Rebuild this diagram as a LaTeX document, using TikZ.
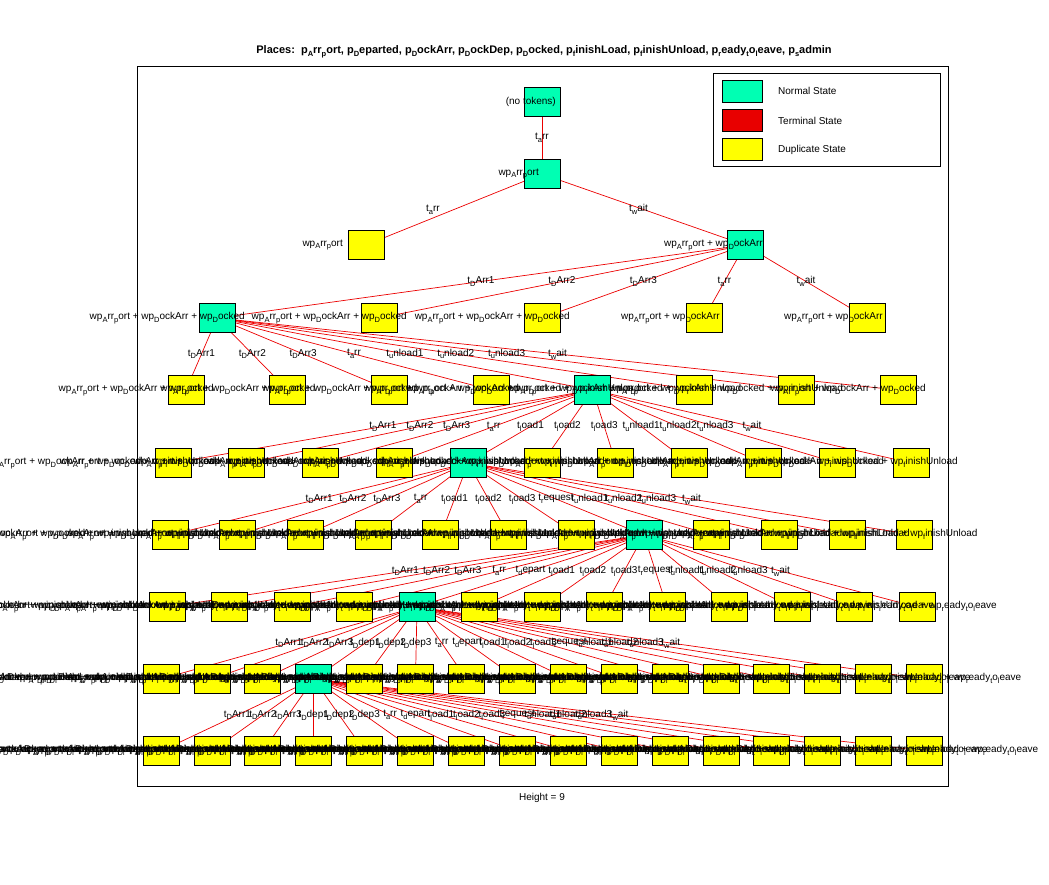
\documentclass[tikz,border=0pt]{standalone}
\usepackage{fontspec}
\setmainfont{Liberation Sans}
\pgfdeclarelayer{bg}
\pgfsetlayers{bg,main}
\definecolor{normalc}{RGB}{0,255,179}
\definecolor{termc}{RGB}{232,0,0}
\definecolor{dupc}{RGB}{255,255,0}
\definecolor{edgec}{RGB}{235,0,0}
\newcommand\sbs[1]{\raisebox{-2.8pt}{\fontsize{7.5}{8}\selectfont #1}}
\newcommand\mkArr{wp\sbs{A}rr\sbs{p}ort}
\newcommand\mkDep{wp\sbs{D}eparted}
\newcommand\mkDA{wp\sbs{D}ockArr}
\newcommand\mkDD{wp\sbs{D}ockDep}
\newcommand\mkDk{wp\sbs{D}ocked}
\newcommand\mkFL{wp\sbs{f}inishLoad}
\newcommand\mkFU{wp\sbs{f}inishUnload}
\newcommand\mkRL{wp\sbs{r}eady\sbs{t}o\sbs{l}eave}
\newcommand\mkSone{\mkArr}
\newcommand\mkStwo{\mkArr{} + \mkDA}
\newcommand\mkSthree{\mkStwo{} + \mkDk}
\newcommand\mkSfour{\mkSthree{} + \mkFU}
\newcommand\mkSfive{\mkSthree{} + \mkFL{} + \mkFU}
\newcommand\mkSsix{\mkSfive{} + \mkRL}
\newcommand\mkSseven{\mkArr{} + \mkDA{} + \mkDD{} + \mkDk{} + \mkFL{} + \mkFU{} + \mkRL}
\newcommand\mkSeight{\mkArr{} + \mkDep{} + \mkDA{} + \mkDD{} + \mkDk{} + \mkFL{} + \mkFU{} + \mkRL}
\begin{document}
\begin{tikzpicture}[x=1pt,y=-1pt,
  font=\fontsize{10}{12}\selectfont,
  sbox/.style={draw=black,line width=0.7pt,minimum width=36pt,minimum height=29pt,inner sep=0pt,outer sep=0pt},
  conn/.style={draw=edgec,line width=0.7pt},
  elab/.style={inner sep=0pt},
  nlab/.style={anchor=east,inner sep=0pt},
  swatch/.style={draw=black,line width=0.7pt,minimum width=40pt,minimum height=22pt,inner sep=0pt}]
\useasboundingbox (0,0) rectangle (1049,884);
% axes frame
\draw[black,line width=0.7pt] (137,66) rectangle (948,786);
\node[font=\fontsize{11}{13}\selectfont\bfseries] (title) at (544,52) {Places:\ \ p\sbs{A}rr\sbs{p}ort, p\sbs{D}eparted, p\sbs{D}ockArr, p\sbs{D}ockDep, p\sbs{D}ocked, p\sbs{f}inishLoad, p\sbs{f}inishUnload, p\sbs{r}eady\sbs{t}o\sbs{l}eave, p\sbs{s}admin};
\node (hgt) at (542,798) {Height = 9};
% state boxes
\node[sbox,fill=normalc] (n0) at (542,102) {};
\node[sbox,fill=normalc] (n1) at (542,174) {};
\node[sbox,fill=dupc] (n2a) at (366,245) {};
\node[sbox,fill=normalc] (n2b) at (745,245) {};
\foreach \i/\x in {0/217,1/379,2/542,3/704,4/867}{
  \ifnum\i=0 \def\fc{normalc}\else\def\fc{dupc}\fi
  \node[sbox,fill=\fc] (L3-\i) at (\x,318) {};}
\foreach \i in {0,...,7}{
  \ifnum\i=4 \def\fc{normalc}\else\def\fc{dupc}\fi
  \node[sbox,fill=\fc] (L4-\i) at ({186+101.7*\i},390) {};}
\foreach \i in {0,...,10}{
  \ifnum\i=4 \def\fc{normalc}\else\def\fc{dupc}\fi
  \node[sbox,fill=\fc] (L5-\i) at ({173+73.8*\i},463) {};}
\foreach \i in {0,...,11}{
  \ifnum\i=7 \def\fc{normalc}\else\def\fc{dupc}\fi
  \node[sbox,fill=\fc] (L6-\i) at ({170+67.7*\i},535) {};}
\foreach \i in {0,...,12}{
  \ifnum\i=4 \def\fc{normalc}\else\def\fc{dupc}\fi
  \node[sbox,fill=\fc] (L7-\i) at ({167+62.5*\i},607) {};}
\foreach \i in {0,...,15}{
  \ifnum\i=3 \def\fc{normalc}\else\def\fc{dupc}\fi
  \node[sbox,fill=\fc] (L8-\i) at ({161+50.9*\i},679) {};}
\foreach \i in {0,...,15}{
  \node[sbox,fill=dupc] (L9-\i) at ({161+50.9*\i},751) {};}
% connectors
\begin{pgfonlayer}{bg}
\draw[conn] (n0.center) -- (n1.center);
\draw[conn] (n1.center) -- (n2a.center);
\draw[conn] (n1.center) -- (n2b.center);
\foreach \i in {0,...,4} \draw[conn] (n2b.center) -- (L3-\i.center);
\foreach \i in {0,...,7} \draw[conn] (L3-0.center) -- (L4-\i.center);
\foreach \i in {0,...,10} \draw[conn] (L4-4.center) -- (L5-\i.center);
\foreach \i in {0,...,11} \draw[conn] (L5-4.center) -- (L6-\i.center);
\foreach \i in {0,...,12} \draw[conn] (L6-7.center) -- (L7-\i.center);
\foreach \i in {0,...,15} \draw[conn] (L7-4.center) -- (L8-\i.center);
\foreach \i in {0,...,15} \draw[conn] (L8-3.center) -- (L9-\i.center);
\end{pgfonlayer}
% state labels
\node[nlab] (t0) at ([xshift=14pt]n0.center) {(no tokens)};
\node[nlab] (t1) at ([xshift=-3pt]n1.center) {\mkSone};
\node[nlab] (t2a) at ([xshift=-23pt]n2a.center) {\mkSone};
\node[nlab] (t2b) at ([xshift=18pt]n2b.center) {\mkStwo};
\foreach \i in {0,1,2} \node[nlab] at ([xshift=28pt]L3-\i.center) {\mkSthree};
\foreach \i in {3,4} \node[nlab] at ([xshift=16pt]L3-\i.center) {\mkStwo};
\foreach \i in {0,1,2,3,7} \node[nlab] at ([xshift=28pt]L4-\i.center) {\mkSthree};
\foreach \i in {4,5,6} \node[nlab] at ([xshift=47pt]L4-\i.center) {\mkSfour};
\foreach \i in {0,1,2,3,7,8,9,10} \node[nlab] at ([xshift=47pt]L5-\i.center) {\mkSfour};
\foreach \i in {4,5,6} \node[nlab] at ([xshift=63pt]L5-\i.center) {\mkSfive};
\foreach \i in {0,1,2,3,4,5,6,8,9,10,11} \node[nlab] at ([xshift=63pt]L6-\i.center) {\mkSfive};
\node[nlab] at ([xshift=80pt]L6-7.center) {\mkSsix};
\foreach \i in {0,1,2,3,5,6,7,8,9,10,11,12} \node[nlab] at ([xshift=80pt]L7-\i.center) {\mkSsix};
\node[nlab] at ([xshift=97pt]L7-4.center) {\mkSseven};
\foreach \i in {0,1,2,4,5,6,7,8,9,10,11,12,13,14,15} \node[nlab] at ([xshift=97pt]L8-\i.center) {\mkSseven};
\node[nlab] at ([xshift=114pt]L8-3.center) {\mkSeight};
\foreach \i in {0,...,15} \node[nlab] at ([xshift=114pt]L9-\i.center) {\mkSeight};
% connector labels
\path (n0.center) -- (n1.center) node[elab,midway] {t\sbs{a}rr};
\path (n1.center) -- (n2a.center) node[elab,midway,xshift=-21pt] {t\sbs{a}rr};
\path (n1.center) -- (n2b.center) node[elab,midway,xshift=-5pt] {t\sbs{w}ait};
\foreach \i/\ta/\tb in {0/D/Arr1,1/D/Arr2,2/D/Arr3,3/a/rr,4/w/ait}
  \path (n2b.center) -- (L3-\i.center) node[elab,midway] {t\sbs{\ta}\tb};
\foreach \i/\ta/\tb in {0/D/Arr1,1/D/Arr2,2/D/Arr3,3/a/rr,4/u/nload1,5/u/nload2,6/u/nload3,7/w/ait}
  \path (L3-0.center) -- (L4-\i.center) node[elab,midway] {t\sbs{\ta}\tb};
\foreach \i/\ta/\tb in {0/D/Arr1,1/D/Arr2,2/D/Arr3,3/a/rr,4/l/oad1,5/l/oad2,6/l/oad3,7/u/nload1,8/u/nload2,9/u/nload3,10/w/ait}
  \path (L4-4.center) -- (L5-\i.center) node[elab,midway] {t\sbs{\ta}\tb};
\foreach \i/\ta/\tb in {0/D/Arr1,1/D/Arr2,2/D/Arr3,3/a/rr,4/l/oad1,5/l/oad2,6/l/oad3,7/r/equest,8/u/nload1,9/u/nload2,10/u/nload3,11/w/ait}
  \path (L5-4.center) -- (L6-\i.center) node[elab,midway] {t\sbs{\ta}\tb};
\foreach \i/\ta/\tb in {0/D/Arr1,1/D/Arr2,2/D/Arr3,3/a/rr,4/d/epart,5/l/oad1,6/l/oad2,7/l/oad3,8/r/equest,9/u/nload1,10/u/nload2,11/u/nload3,12/w/ait}
  \path (L6-7.center) -- (L7-\i.center) node[elab,midway] {t\sbs{\ta}\tb};
\foreach \i/\ta/\tb in {0/D/Arr1,1/D/Arr2,2/D/Arr3,3/D/dep1,4/D/dep2,5/D/dep3,6/a/rr,7/d/epart,8/l/oad1,9/l/oad2,10/l/oad3,11/r/equest,12/u/nload1,13/u/nload2,14/u/nload3,15/w/ait}
  \path (L7-4.center) -- (L8-\i.center) node[elab,midway] {t\sbs{\ta}\tb};
\foreach \i/\ta/\tb in {0/D/Arr1,1/D/Arr2,2/D/Arr3,3/D/dep1,4/D/dep2,5/D/dep3,6/a/rr,7/d/epart,8/l/oad1,9/l/oad2,10/l/oad3,11/r/equest,12/u/nload1,13/u/nload2,14/u/nload3,15/w/ait}
  \path (L8-3.center) -- (L9-\i.center) node[elab,midway] {t\sbs{\ta}\tb};
% legend
\node[draw=black,line width=0.7pt,fill=white,minimum width=227pt,minimum height=93pt,inner sep=0pt,anchor=north west] (legend) at (713,73) {};
\node[swatch,fill=normalc] (sw1) at (742,91) {};
\node[swatch,fill=termc] (sw2) at (742,120.5) {};
\node[swatch,fill=dupc] (sw3) at (742,149.5) {};
\node[anchor=west,inner sep=0pt] (lg1) at (778,91) {Normal State};
\node[anchor=west,inner sep=0pt] (lg2) at (778,120.5) {Terminal State};
\node[anchor=west,inner sep=0pt] (lg3) at (778,149.5) {Duplicate State};
\end{tikzpicture}
\end{document}
